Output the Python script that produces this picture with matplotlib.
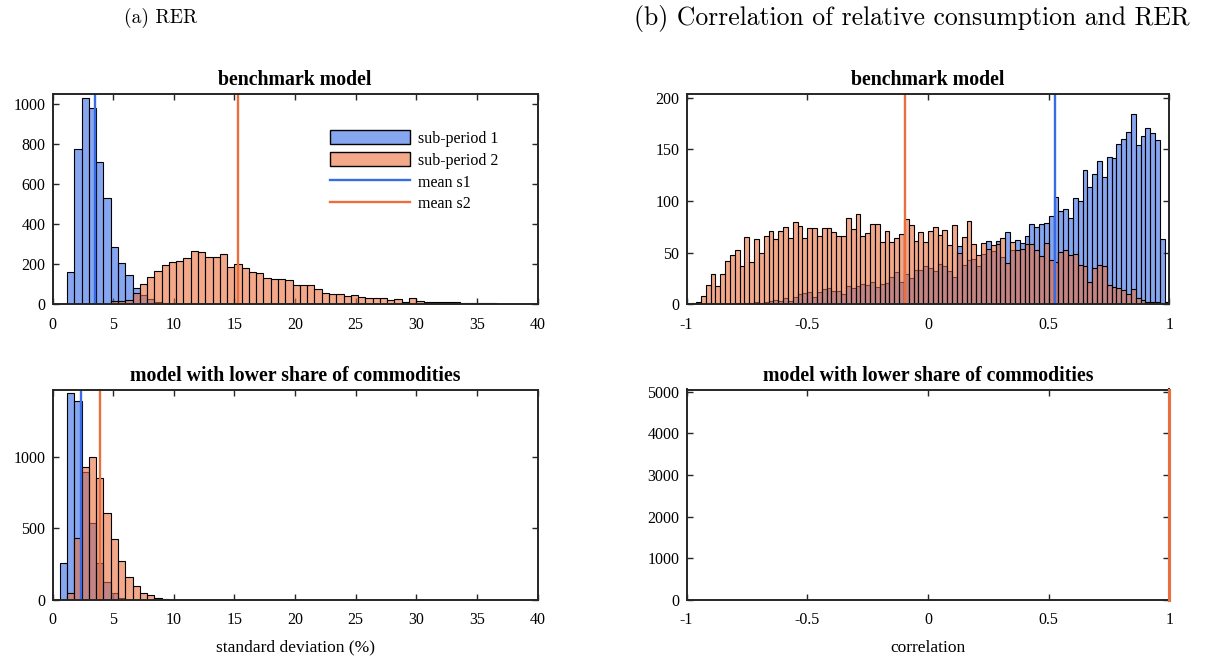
import numpy as np
import matplotlib
matplotlib.use("Agg")
import matplotlib.pyplot as plt
from matplotlib.patches import Patch
from matplotlib.lines import Line2D

# ---------------- data ----------------
# (a) RER: standard deviation (%) histograms, bin width 0.6
rer_bin_width = 0.6
rer_bench_s1_start = 1.2
rer_bench_s1 = [159, 776, 1030, 980, 710, 527, 287, 204, 146, 80, 46, 25, 10, 5, 2]
rer_bench_s2_start = 4.8
rer_bench_s2 = [15, 15, 20, 55, 103, 138, 167, 196, 212, 216, 229, 267, 259, 237, 237,
                249, 187, 200, 182, 159, 157, 133, 126, 126, 121, 96, 95, 96, 76, 58,
                50, 50, 43, 46, 38, 33, 33, 30, 22, 25, 13, 30, 17, 12, 10, 10, 9, 9, 8,
                8, 7, 6, 6]
rer_bench_mean = [3.53, 15.3]

rer_low_s1_start = 0.6
rer_low_s1 = [256, 1447, 1391, 895, 535, 260, 128, 47, 12, 3]
rer_low_s2_start = 1.2
rer_low_s2 = [51, 430, 930, 1000, 849, 609, 426, 272, 163, 100, 47, 35, 16, 7, 2]
rer_low_mean = [2.31, 3.9]

# (b) correlation histograms, 100 bins on [-1, 1]
corr_bins = 100
corr_bench_s1 = [0, 0, 0, 0, 0, 0, 0, 0, 0, 0,
                 1, 0, 1, 1, 2, 1, 2, 3, 4, 3,
                 6, 3, 7, 10, 11, 12, 7, 12, 15, 16,
                 13, 13, 10, 18, 16, 18, 20, 19, 22, 17,
                 20, 21, 26, 31, 22, 29, 25, 33, 33, 37,
                 35, 32, 39, 37, 32, 26, 56, 38, 43, 44,
                 37, 49, 61, 52, 61, 46, 70, 53, 62, 59,
                 66, 78, 75, 78, 79, 85, 104, 90, 92, 84,
                 103, 100, 130, 114, 126, 139, 123, 143, 142, 155,
                 160, 167, 184, 154, 163, 171, 166, 159, 63, 2]
corr_bench_s2 = [0, 1, 2, 8, 19, 29, 18, 29, 42, 48,
                 53, 37, 65, 41, 63, 50, 66, 71, 63, 71,
                 75, 64, 80, 76, 64, 74, 74, 66, 74, 74,
                 70, 66, 66, 84, 73, 87, 66, 69, 78, 78,
                 60, 71, 60, 64, 68, 83, 77, 61, 70, 60,
                 71, 75, 67, 72, 57, 77, 50, 65, 81, 58,
                 48, 59, 54, 57, 58, 64, 40, 60, 53, 54,
                 58, 58, 53, 47, 59, 43, 41, 51, 53, 48,
                 49, 38, 37, 22, 35, 38, 37, 19, 17, 16,
                 14, 10, 15, 6, 4, 2, 2, 2, 1, 1]
corr_bench_mean = [0.525, -0.095]

corr_low_edges = [0.999, 1.0]
corr_low_s1 = [5000]
corr_low_s2 = [5000]
corr_low_mean = [1.0, 1.0]

labels = ["sub-period 1", "sub-period 2", "mean s1", "mean s2"]

# ---------------- style ----------------
W, H = 1210, 660
DPI = 100
plt.rcParams["axes.unicode_minus"] = False
SERIF = ["Liberation Serif", "DejaVu Serif"]
CM = ["cmr10", "DejaVu Serif"]

blue = np.array([56, 107, 230]) / 255
orange = np.array([235, 110, 61]) / 255
A = 0.6
blue_face = (*blue, A)
orange_face = (*orange, A)
axcol = (0.15, 0.15, 0.15)

fig = plt.figure(figsize=(W / DPI, H / DPI), dpi=DPI)


def ax_at(l, t, r, b):
    return fig.add_axes([l / W, 1 - b / H, (r - l) / W, (b - t) / H])


def style(ax):
    for s in ax.spines.values():
        s.set_linewidth(1.4)
        s.set_color(axcol)
        s.set_zorder(5)
    ax.tick_params(direction="in", top=True, right=True, length=4, width=1.0,
                   color=axcol, labelsize=11.5)
    ax.tick_params(axis="x", pad=9)
    ax.tick_params(axis="y", pad=5)
    for lab in ax.get_xticklabels() + ax.get_yticklabels():
        lab.set_fontfamily(SERIF)
        lab.set_color("black")


def hist(ax, start, width, counts, face):
    counts = np.asarray(counts, dtype=float)
    edges = start + width * np.arange(len(counts))
    ax.bar(edges, counts, width=width, align="edge", facecolor=face,
           edgecolor="black", linewidth=0.8, zorder=2)


# positions (pixels)
LX0, LX1 = 52.5, 537.5
RX0, RX1 = 686.5, 1169.5
TY0, TY1 = 93.5, 304.3
BY0, BY1 = 389.5, 600.0

TFS = 14.3
# (a) top
ax1 = ax_at(LX0, TY0, LX1, TY1)
hist(ax1, rer_bench_s1_start, rer_bin_width, rer_bench_s1, blue_face)
hist(ax1, rer_bench_s2_start, rer_bin_width, rer_bench_s2, orange_face)
ax1.axvline(rer_bench_mean[0], color=blue, lw=1.7, zorder=3)
ax1.axvline(rer_bench_mean[1], color=orange, lw=1.7, zorder=3)
ax1.set_xlim(0, 40)
ax1.set_ylim(0, 1050)
ax1.set_xticks(np.arange(0, 41, 5))
ax1.set_yticks(np.arange(0, 1001, 200))
style(ax1)
ax1.set_title("benchmark model", fontfamily=SERIF, fontweight="bold", fontsize=TFS, pad=6)
handles = [Patch(facecolor=blue_face, edgecolor="black", linewidth=1.0),
           Patch(facecolor=orange_face, edgecolor="black", linewidth=1.0),
           Line2D([], [], color=blue, lw=1.7),
           Line2D([], [], color=orange, lw=1.7)]
ax1.legend(handles, labels, loc="upper left", bbox_to_anchor=(0.572, 0.826),
           frameon=False, borderpad=0, borderaxespad=0, handlelength=5.0,
           handleheight=1.0, handletextpad=0.5, labelspacing=0.33,
           prop={"family": SERIF, "size": 11.5})

# (a) bottom
ax2 = ax_at(LX0, BY0, LX1, BY1)
hist(ax2, rer_low_s1_start, rer_bin_width, rer_low_s1, blue_face)
hist(ax2, rer_low_s2_start, rer_bin_width, rer_low_s2, orange_face)
ax2.axvline(rer_low_mean[0], color=blue, lw=1.7, zorder=3)
ax2.axvline(rer_low_mean[1], color=orange, lw=1.7, zorder=3)
ax2.set_xlim(0, 40)
ax2.set_ylim(0, 1470)
ax2.set_xticks(np.arange(0, 41, 5))
ax2.set_yticks([0, 500, 1000])
style(ax2)
ax2.set_title("model with lower share of commodities", fontfamily=SERIF,
              fontweight="bold", fontsize=TFS, pad=6)
ax2.set_xlabel("standard deviation (%)", fontfamily=SERIF, fontsize=12.5, labelpad=8)

# (b) top
ax3 = ax_at(RX0, TY0, RX1, TY1)
cw = 2.0 / corr_bins
hist(ax3, -1.0, cw, corr_bench_s1, blue_face)
hist(ax3, -1.0, cw, corr_bench_s2, orange_face)
ax3.axvline(corr_bench_mean[0], color=blue, lw=1.7, zorder=3)
ax3.axvline(corr_bench_mean[1], color=orange, lw=1.7, zorder=3)
ax3.set_xlim(-1, 1)
ax3.set_ylim(0, 204)
ax3.set_xticks([-1, -0.5, 0, 0.5, 1])
ax3.set_xticklabels(["-1", "-0.5", "0", "0.5", "1"])
ax3.set_yticks(np.arange(0, 201, 50))
style(ax3)
ax3.set_title("benchmark model", fontfamily=SERIF, fontweight="bold", fontsize=TFS, pad=6)

# (b) bottom
ax4 = ax_at(RX0, BY0, RX1, BY1)
lw_b = corr_low_edges[1] - corr_low_edges[0]
hist(ax4, corr_low_edges[0], lw_b, corr_low_s1, blue_face)
hist(ax4, corr_low_edges[0], lw_b, corr_low_s2, orange_face)
ax4.axvline(corr_low_mean[0], color=blue, lw=2.2, zorder=6, clip_on=False)
ax4.axvline(corr_low_mean[1], color=orange, lw=2.2, zorder=6, clip_on=False)
ax4.set_xlim(-1, 1)
ax4.set_ylim(0, 5050)
ax4.set_xticks([-1, -0.5, 0, 0.5, 1])
ax4.set_xticklabels(["-1", "-0.5", "0", "0.5", "1"])
ax4.set_yticks(np.arange(0, 5001, 1000))
style(ax4)
ax4.set_title("model with lower share of commodities", fontfamily=SERIF,
              fontweight="bold", fontsize=TFS, pad=6)
ax4.set_xlabel("correlation", fontfamily=SERIF, fontsize=12.5, labelpad=8)

# panel headings
fig.text(161 / W, 1 - 18 / H, "(a) RER", family=CM, fontsize=14, ha="center", va="center")
fig.text(912 / W, 1 - 18 / H, "(b) Correlation of relative consumption and RER",
         family=CM, fontsize=18.5, ha="center", va="center")

fig.savefig("out.png", dpi=DPI, facecolor="white")
